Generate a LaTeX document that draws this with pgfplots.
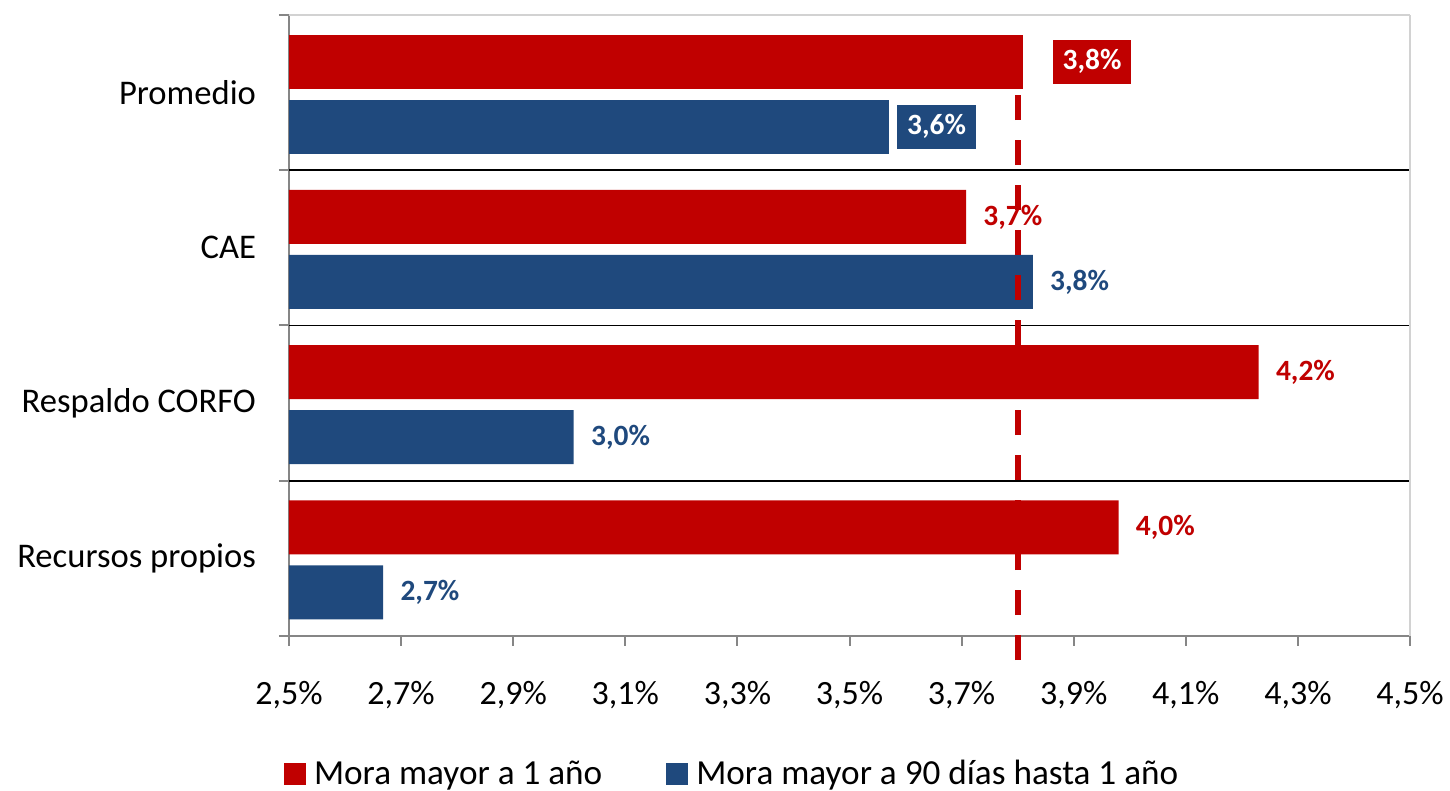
\documentclass[border=0pt]{standalone}
\usepackage{pgfplots}
\pgfplotsset{compat=1.18}
\usepackage{fontspec}
\setmainfont{Carlito}

\definecolor{moraR}{HTML}{C00000}
\definecolor{moraB}{HTML}{1F497D}
\definecolor{axgray}{HTML}{868686}

\pgfkeys{/pgf/number format/pct/.style={fixed, fixed zerofill, precision=1, use comma, assume math mode=true}}

\pgfplotsset{
  base/.style={
    scale only axis, width=560.5pt, height=310.5pt,
    at={(0,0)}, anchor=south west,
    xmin=2.5, xmax=4.5, ymin=-0.5, ymax=3.5,
  },
  lbl/.style={
    nodes near coords={\pgfmathprintnumber[pct]{\pgfplotspointmeta}\%},
    point meta=x,
    every node near coord/.append style={anchor=west, font=\bfseries\fontsize{14.7}{16}\selectfont, #1},
  },
}

\begin{document}
\begin{tikzpicture}
\begin{axis}[base,
  xbar, bar width=27pt,
  axis x line*=bottom, axis y line*=left,
  axis line style={axgray, line width=1.2pt},
  tick align=outside, major tick length=5pt, minor tick length=5pt,
  xtick={2.5,2.7,2.9,3.1,3.3,3.5,3.7,3.9,4.1,4.3,4.5},
  xticklabel={\pgfmathprintnumber[pct]{\tick}\%},
  xticklabel style={yshift=-14pt},
  every major x tick/.style={axgray, line width=1pt},
  ytick={0,1,2,3},
  yticklabels={Recursos propios,Respaldo CORFO,CAE,Promedio},
  yticklabel style={xshift=-8pt, font=\fontsize{17.3}{20}\selectfont},
  every major y tick/.style={draw=none},
  minor ytick={-0.5,0.5,1.5,2.5,3.5},
  every minor y tick/.style={axgray, line width=1pt},
  extra y ticks={0.5,1.5,2.5},
  extra y tick labels={},
  extra y tick style={grid=major, major grid style={black, line width=0.8pt}},
  tick label style={font=\fontsize{17}{20}\selectfont},
  legend style={at={(0.398,-0.222)}, anchor=center, draw=none, fill=none,
    legend columns=2, font=\fontsize{17.6}{20}\selectfont,
    /tikz/every even column/.append style={column sep=28pt}},
  legend image code/.code={\fill[#1] (0pt,-5.5pt) rectangle (11pt,5.5pt);},
  legend style={/tikz/every node/.append style={inner xsep=4pt}},
]
% Mora mayor a 1 anio
\addplot[fill=moraR, draw=none, bar shift=15.5pt,
  lbl={text=moraR, inner xsep=0pt, xshift=8.5pt}]
  coordinates {(3.98,0) (4.23,1) (3.708,2)};
\addplot[fill=moraR, draw=none, bar shift=15.5pt, forget plot,
  lbl={text=white, fill=moraR, inner xsep=5pt, minimum height=22pt, xshift=14.5pt}]
  coordinates {(3.81,3)};
% Mora mayor a 90 dias hasta 1 anio
\addplot[fill=moraB, draw=none, bar shift=-17pt,
  lbl={text=moraB, inner xsep=0pt, xshift=8.5pt}]
  coordinates {(2.668,0) (3.008,1) (3.827,2)};
\addplot[fill=moraB, draw=none, bar shift=-17pt, forget plot,
  lbl={text=white, fill=moraB, inner xsep=5pt, minimum height=22pt, xshift=4pt}]
  coordinates {(3.57,3)};
\legend{Mora mayor a 1 año, Mora mayor a 90 días hasta 1 año}
\end{axis}
\begin{axis}[base,
  axis x line*=top, axis y line*=right,
  axis line style={gray!35, line width=0.8pt},
  xtick=\empty, ytick=\empty, clip=false]
\addplot[moraR, line width=3pt, dash pattern=on 12.5pt off 10pt]
  coordinates {(3.8,-0.655) (3.8,3.377)};
\end{axis}
\pgfresetboundingbox
\path (-144.5pt,-77.5pt) rectangle (580.5pt,318pt);
\end{tikzpicture}
\end{document}
